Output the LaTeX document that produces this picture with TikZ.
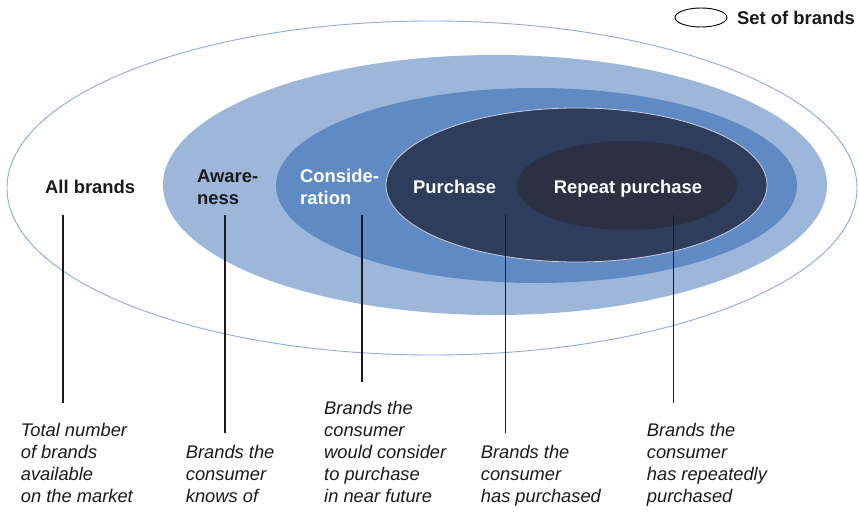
\documentclass[tikz,border=0pt]{standalone}
\usepackage{fontspec}
\setmainfont{Liberation Sans}
\definecolor{outerc}{HTML}{8FAAD5}
\definecolor{awc}{HTML}{9DB7DA}
\definecolor{conc}{HTML}{5F8AC3}
\definecolor{purc}{HTML}{2F3D5D}
\definecolor{repc}{HTML}{2B3043}
\definecolor{txt}{HTML}{1A1A1A}
\begin{document}
\begin{tikzpicture}[x=1pt,y=-1pt,
  lbl/.style={font=\fontsize{18.4}{22}\selectfont\bfseries, inner sep=0pt, text=txt},
  wlbl/.style={lbl, text=white},
  desc/.style={font=\fontsize{18.3}{22}\selectfont\itshape, inner sep=0pt, anchor=base west, text=txt},
  leader/.style={draw=txt, line width=1.2pt}]
\useasboundingbox (0,0) rectangle (859,524);
\fill[white] (0,0) rectangle (859,524);
% sets
\draw[outerc, line width=0.9pt] (432,188) ellipse [x radius=425, y radius=167];
\fill[awc] (495,185) ellipse [x radius=332, y radius=130];
\fill[conc] (536.5,185.5) ellipse [x radius=260.5, y radius=97.5];
\filldraw[fill=purc, draw=white!75!purc, line width=0.8pt] (576.5,185) ellipse [x radius=190.5, y radius=77];
\fill[repc] (627,185.5) ellipse [x radius=110, y radius=44.5];
% legend
\draw[black, line width=0.9pt] (701,17.5) ellipse [x radius=26, y radius=9.5];
\node[lbl, anchor=base west] (leg) at (737,25) {Set of brands};
% set labels
\node[lbl, anchor=base west] (all) at (45,193) {All brands};
\node[lbl, anchor=base west] (aw) at (197,182) {\begin{tabular}[t]{@{}l@{}}Aware-\\ness\end{tabular}};
\node[wlbl, anchor=base west] (con) at (300,182) {\begin{tabular}[t]{@{}l@{}}Conside-\\ration\end{tabular}};
\node[wlbl, anchor=base west] (pur) at (413,193) {Purchase};
\node[wlbl, anchor=base] (rep) at (628,193) {Repeat purchase};
% descriptions
\node[desc] (d1) at (20.7,502) {\begin{tabular}[b]{@{}l@{}}Total number\\of brands\\available\\on the market\end{tabular}};
\node[desc] (d2) at (185.7,502) {\begin{tabular}[b]{@{}l@{}}Brands the\\consumer\\knows of\end{tabular}};
\node[desc] (d3) at (324,502) {\begin{tabular}[b]{@{}l@{}}Brands the\\consumer\\would consider\\to purchase\\in near future\end{tabular}};
\node[desc] (d4) at (480.7,502) {\begin{tabular}[b]{@{}l@{}}Brands the\\consumer\\has purchased\end{tabular}};
\node[desc] (d5) at (646.7,502) {\begin{tabular}[b]{@{}l@{}}Brands the\\consumer\\has repeatedly\\purchased\end{tabular}};
% leader lines
\coordinate (a1) at (63,215);   \coordinate (b1) at (63,403);
\coordinate (a2) at (225,215);  \coordinate (b2) at (225,433);
\coordinate (a3) at (362,215);  \coordinate (b3) at (362,382);
\coordinate (a4) at (505.7,215);\coordinate (b4) at (505.7,433);
\coordinate (a5) at (673.7,215);\coordinate (b5) at (673.7,403);
\draw[leader] (a1) -- (b1);
\draw[leader] (a2) -- (b2);
\draw[leader] (a3) -- (b3);
\draw[leader] (a4) -- (b4);
\draw[leader] (a5) -- (b5);
\end{tikzpicture}
\end{document}
